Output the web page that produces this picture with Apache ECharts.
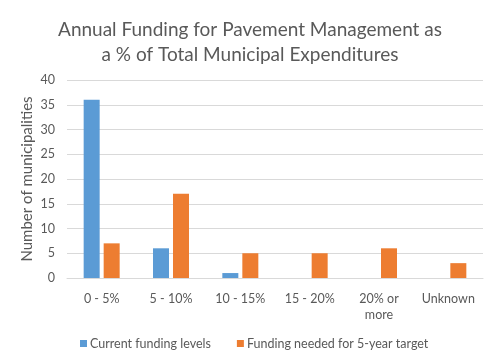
<!DOCTYPE html>
<html>
<head>
<meta charset="utf-8">
<script src="https://cdn.jsdelivr.net/npm/echarts@6/dist/echarts.min.js"></script>
<style>html,body{margin:0;padding:0;background:#fff}#c{width:500px;height:363px}</style>
</head>
<body>
<div id="c"></div>
<script>
var categories = ['0 - 5%', '5 - 10%', '10 - 15%', '15 - 20%', '20% or\nmore', 'Unknown'];
var currentFunding = [36, 6, 1, 0, 0, 0];
var neededFunding = [7, 17, 5, 5, 6, 3];
var seriesNames = ['Current funding levels', 'Funding needed for 5-year target'];
var yTicks = {min: 0, max: 40, interval: 5};
var titleText = 'Annual Funding for Pavement Management as\na % of Total Municipal Expenditures';
var yAxisName = 'Number of municipalities';

var font = 'Lato, "Open Sans", sans-serif';
var chart = echarts.init(document.getElementById('c'), null, {renderer: 'canvas'});
chart.setOption({
  animation: false,
  title: {
    text: titleText,
    left: 'center', top: 12,
    textStyle: {fontFamily: font, fontSize: 19, fontWeight: 'normal', color: '#595959', lineHeight: 25}
  },
  legend: {
    data: seriesNames,
    left: 75, top: 332,
    itemWidth: 7, itemHeight: 7, itemGap: 26,
    icon: 'rect',
    textStyle: {fontFamily: font, fontSize: 12.5, color: '#595959', padding: [0, 0, 0, -2]}
  },
  grid: {left: 67, right: 17, top: 80, bottom: 85, containLabel: false},
  xAxis: {
    type: 'category',
    data: categories,
    axisLine: {lineStyle: {color: '#d9d9d9'}},
    axisTick: {show: false},
    axisLabel: {fontFamily: font, fontSize: 12.5, color: '#595959', margin: 13, lineHeight: 16, interval: 0}
  },
  yAxis: {
    type: 'value',
    min: yTicks.min, max: yTicks.max, interval: yTicks.interval,
    name: yAxisName,
    nameLocation: 'middle',
    nameGap: 32,
    nameMoveOverlap: false,
    nameTextStyle: {fontFamily: font, fontSize: 15, color: '#595959'},
    axisLine: {show: false},
    axisTick: {show: false},
    splitLine: {lineStyle: {color: '#d9d9d9'}},
    axisLabel: {fontFamily: font, fontSize: 12.5, color: '#595959', margin: 12}
  },
  series: [
    {name: seriesNames[0], type: 'bar', data: currentFunding, barWidth: 16, barGap: '25%',
     itemStyle: {color: '#5B9BD5'}},
    {name: seriesNames[1], type: 'bar', data: neededFunding, barWidth: 16, barGap: '25%',
     itemStyle: {color: '#ED7D31'}}
  ]
});
</script>
</body>
</html>
